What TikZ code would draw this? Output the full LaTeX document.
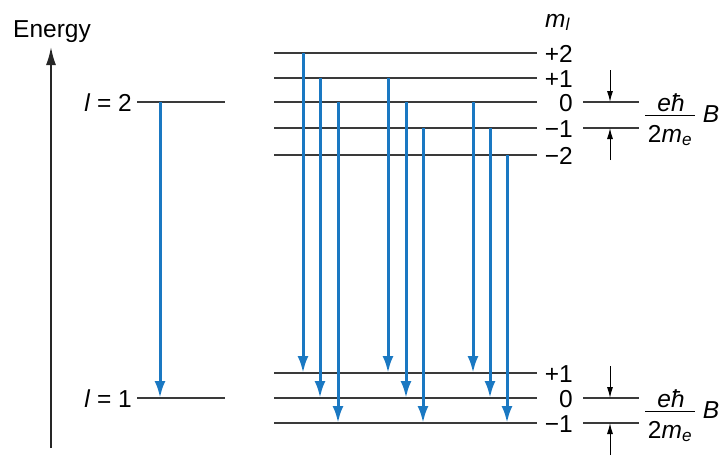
\documentclass[tikz,border=0pt]{standalone}
\usepackage{fontspec}
\setmainfont{Liberation Sans}
\usetikzlibrary{arrows.meta}
\definecolor{tb}{HTML}{1A78C2}
\definecolor{lg}{HTML}{3A3A3A}
\begin{document}
\begin{tikzpicture}[x=1pt,y=-1pt,font=\fontsize{24.5}{28}\selectfont,
  lvl/.style={draw=lg,line width=1.8pt},
  trans/.style={draw=tb,line width=3pt,-{Latex[length=17pt,width=11pt]}},
  gap/.style={draw=black,line width=1pt,-{Latex[length=11pt,width=6pt]}},
  axis/.style={draw=black!85,line width=1.8pt,-{Latex[length=18pt,width=10pt]}},
  lab/.style={inner sep=0pt,anchor=base east},
  txt/.style={inner sep=0pt,anchor=base}]
\useasboundingbox (0,0) rectangle (728,459);
% energy axis
\coordinate (ax0) at (51,448);
\coordinate (ax1) at (51,47);
\draw[axis] (ax0) -- (ax1);
\node[txt] (energy) at (52,37) {Energy};
% unsplit levels
\coordinate (L2a) at (137,102); \coordinate (L2b) at (225,102);
\coordinate (L1a) at (137,398); \coordinate (L1b) at (225,398);
\draw[lvl] (L2a) -- (L2b);
\draw[lvl] (L1a) -- (L1b);
\node[lab] (l2) at (132,111) {\textit{l} = 2};
\node[lab] (l1) at (132,407) {\textit{l} = 1};
\coordinate (t0a) at (160,102); \coordinate (t0b) at (160,398);
\draw[trans] (t0a) -- (t0b);
% split levels, upper
\foreach \n/\y/\t in {p2/53/+2,p1/78/+1,z/102/0,m1/128/−1,m2/155/−2}{
  \coordinate (u\n a) at (274,\y);
  \coordinate (u\n b) at (537,\y);
  \draw[lvl] (u\n a) -- (u\n b);
  \node[lab] (ul\n) at (573,\y+9) {\t};
}
% split levels, lower
\foreach \n/\y/\t in {p1/373/+1,z/398/0,m1/423/−1}{
  \coordinate (d\n a) at (274,\y);
  \coordinate (d\n b) at (537,\y);
  \draw[lvl] (d\n a) -- (d\n b);
  \node[lab] (dl\n) at (573,\y+9) {\t};
}
\node[inner sep=0pt,anchor=base west] (mlab) at (545,27) {\textit{m}\textsubscript{\textit{l}}};
% transitions
\foreach \x/\ya/\yb in {303/53/373,320/78/398,338/102/423,
                        388/78/373,406/102/398,423/128/423,
                        473/102/373,490/128/398,507/155/423}{
  \coordinate (s\x) at (\x,\ya);
  \coordinate (e\x) at (\x,\yb);
  \draw[trans] (s\x) -- (e\x);
}
% splitting indicators, upper
\coordinate (g1a) at (583,102); \coordinate (g1b) at (639,102);
\coordinate (g2a) at (583,128); \coordinate (g2b) at (639,128);
\draw[line width=1.2pt,draw=lg] (g1a) -- (g1b);
\draw[line width=1.2pt,draw=lg] (g2a) -- (g2b);
\coordinate (ga0) at (610,70); \coordinate (ga1) at (610,102);
\coordinate (gb0) at (610,160); \coordinate (gb1) at (610,128);
\draw[gap] (ga0) -- (ga1);
\draw[gap] (gb0) -- (gb1);
\node[txt] (num1) at (671,111) {\textit{eħ}};
\node[txt] (den1) at (670,142) {2\textit{m}\textsubscript{\textit{e}}};
\coordinate (fb1a) at (645,115); \coordinate (fb1b) at (695,115);
\draw[line width=1pt] (fb1a) -- (fb1b);
\node[txt] (B1) at (711,122) {\textit{B}};
% splitting indicators, lower
\coordinate (h1a) at (583,398); \coordinate (h1b) at (639,398);
\coordinate (h2a) at (583,423); \coordinate (h2b) at (639,423);
\draw[line width=1.2pt,draw=lg] (h1a) -- (h1b);
\draw[line width=1.2pt,draw=lg] (h2a) -- (h2b);
\coordinate (ha0) at (610,366); \coordinate (ha1) at (610,398);
\coordinate (hb0) at (610,455); \coordinate (hb1) at (610,423);
\draw[gap] (ha0) -- (ha1);
\draw[gap] (hb0) -- (hb1);
\node[txt] (num2) at (671,407) {\textit{eħ}};
\node[txt] (den2) at (670,438) {2\textit{m}\textsubscript{\textit{e}}};
\coordinate (fb2a) at (645,411); \coordinate (fb2b) at (695,411);
\draw[line width=1pt] (fb2a) -- (fb2b);
\node[txt] (B2) at (711,418) {\textit{B}};
\end{tikzpicture}
\end{document}
